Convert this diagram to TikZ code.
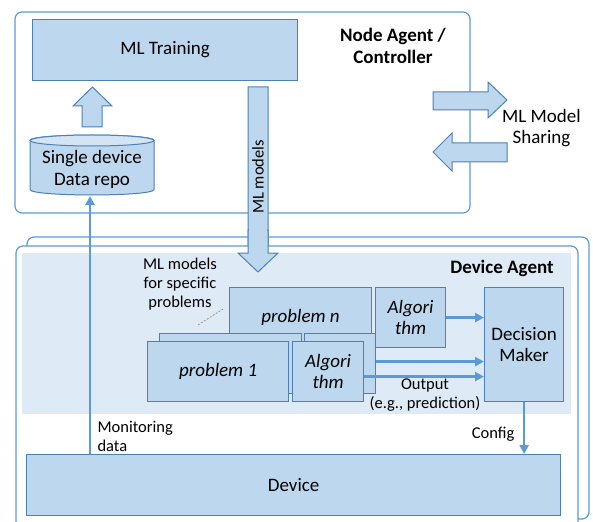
\documentclass[tikz,border=0pt]{standalone}
\usepackage{fontspec}
\setmainfont{Carlito}
\usetikzlibrary{arrows.meta}
\definecolor{boxfill}{HTML}{BDD7EE}
\definecolor{boxline}{HTML}{4E80B5}
\definecolor{outlinec}{HTML}{5B9BD5}
\definecolor{bandc}{HTML}{DEEBF7}
\definecolor{flowc}{HTML}{5B9BD5}
\definecolor{toplid}{HTML}{D3E4F4}
\tikzset{
 bigtext/.style={font=\fontsize{19}{21.5}\selectfont, align=center},
 bigit/.style={font=\fontsize{19}{21.5}\selectfont\itshape, align=center},
 bigbold/.style={font=\fontsize{19}{21.5}\selectfont\bfseries, align=center},
 smalltext/.style={font=\fontsize{16.5}{19}\selectfont, align=center},
 box/.style={draw=boxline, fill=boxfill, line width=1.2pt, inner sep=0pt, anchor=north west, bigtext},
 outerbox/.style={draw=outlinec, line width=1.2pt, rounded corners=7pt},
 blockarrow/.style={draw=boxline, fill=boxfill, line width=1pt, line join=miter},
 flow/.style={draw=flowc, line width=2.4pt, -{Triangle[length=9pt,width=9pt]}},
 callout/.style={draw=gray, line width=0.6pt, dashed, dash pattern=on 2pt off 1.5pt},
}
\begin{document}
\begin{tikzpicture}[x=1pt,y=-1pt]
\useasboundingbox (0,0) rectangle (593,521);
\clip (0,0) rectangle (593,521);

% ---------- Node agent ----------
\draw[outerbox] (15,12) rectangle (470,213);
\node[box, minimum width=265pt, minimum height=61pt] (train) at (32,19) {ML Training};
\node[bigbold] (natitle) at (393,46) {Node Agent /\\Controller};

% up block arrow
\draw[blockarrow] (82,127) -- (82,106) -- (73,106) -- (92.5,87) -- (112,106) -- (102,106) -- (102,127) -- cycle;

% cylinder
\draw[blockarrow] (30,140.5) -- (30,189.5) .. controls (30,196.8) and (154,196.8) .. (154,189.5)
  -- (154,140.5) .. controls (154,133.2) and (30,133.2) .. (30,140.5) -- cycle;
\draw[blockarrow, fill=toplid] (92,140.5) ellipse [x radius=62pt, y radius=5.5pt];
\node[bigtext] (repo) at (92,169.5) {Single device\\Data repo};
\coordinate (repobot) at (90,196);

% ML models block arrow
\draw[blockarrow] (248,87) -- (268,87) -- (268,253) -- (278,253) -- (258,272) -- (238,253) -- (248,253) -- cycle;

% sharing arrows
\draw[blockarrow] (433,92) -- (488,92) -- (488,82) -- (507,100) -- (488,118) -- (488,110) -- (433,110) -- cycle;
\draw[blockarrow] (507,143) -- (452,143) -- (452,133) -- (433,152) -- (452,171) -- (452,162) -- (507,162) -- cycle;
\node[bigtext] (share) at (541.5,128) {ML Model\\Sharing};

% ---------- Device agent ----------
\draw[outerbox] (27,237) rectangle (589,519);
\draw[outerbox, fill=white] (16,246) rectangle (578,530);
\fill[bandc] (22,253) rectangle (571,414);

% redraw ML models arrow head part over the agent boxes
\draw[blockarrow] (248,230) -- (268,230) -- (268,253) -- (278,253) -- (258,272) -- (238,253) -- (248,253) -- cycle;
\fill[boxfill] (249,225) rectangle (267,236);
\node[smalltext, rotate=90] (mlm) at (258,177) {ML models};

\node[bigbold] (datitle) at (502,268) {Device Agent};
\node[smalltext] (mlspec) at (180,284) {ML models\\for specific\\problems};
\coordinate (calloutA) at (198,325);
\coordinate (calloutB) at (223,309);
\draw[callout] (calloutA) -- (calloutB);

% problem stacks
\node[box, bigit, minimum width=142pt, minimum height=60pt] (probn) at (229,287) {problem n};
\node[box, bigit, minimum width=70pt, minimum height=60pt] (algon) at (375,287) {Algori\\thm};
\node[box, minimum width=142pt, minimum height=60pt] (probm) at (159,333) {};
\node[box, minimum width=71pt, minimum height=60pt] (algom) at (304,333) {};
\node[box, bigit, minimum width=141pt, minimum height=60pt] (prob1) at (147,341) {problem 1};
\node[box, bigit, minimum width=71pt, minimum height=60pt] (algo1) at (292,341) {Algori\\thm};
\node[box, minimum width=79pt, minimum height=114pt] (dm) at (484,287) {Decision\\Maker};

\draw[flow] (algon.east) -- (algon.east -| dm.west);
\draw[flow] ([yshift=2pt]algom.east) -- ([yshift=2pt]algom.east -| dm.west);
\draw[flow] ([yshift=-5pt]algo1.east) -- ([yshift=-5pt]algo1.east -| dm.west);
\node[smalltext] (out) at (425,395.5) {Output\\(e.g., prediction)};

% device
\node[box, minimum width=534pt, minimum height=61pt] (device) at (26,454) {Device};
\coordinate (monstart) at (90,454);
\draw[flow] (monstart) -- (repobot);
\node[smalltext, align=left, anchor=west] (mon) at (94,436) {Monitoring\\data};
\draw[flow] (dm.south) -- (dm.south |- device.north);
\node[smalltext, anchor=east] (cfg) at (518,434) {Config};
\end{tikzpicture}
\end{document}
